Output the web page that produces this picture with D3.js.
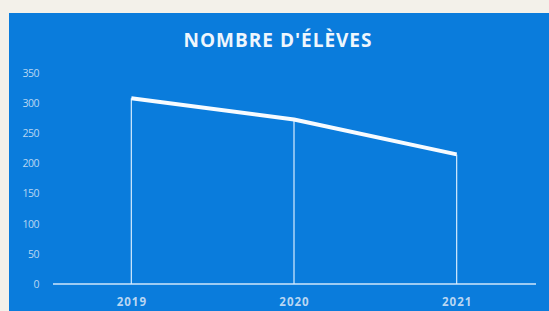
<!DOCTYPE html>
<html>
<head>
<meta charset="utf-8">
<script src="https://cdn.jsdelivr.net/npm/d3@7"></script>
<style>
  body { margin: 0; background: #f3f1ea; }
  svg { display: block; }
</style>
</head>
<body>
<script>
const width = 549,
    height = 311;

// Data
const years = ['2019', '2020', '2021'];
const eleves = [308, 273, 215];
const yTicks = [0, 50, 100, 150, 200, 250, 300, 350];
const title = "NOMBRE D'ÉLÈVES";

const svg = d3.select("body").append("svg")
    .attr("width", width)
    .attr("height", height);

// blue slide panel
svg.append("rect")
    .attr("x", 9)
    .attr("y", 13)
    .attr("width", width - 9)
    .attr("height", height - 13)
    .attr("fill", "#0a7cdc");

const x = d3.scalePoint()
    .domain(years)
    .range([50, 538])
    .padding(0.5);

const y = d3.scaleLinear()
    .domain([0, 350])
    .range([284, 73]);

svg.append("text")
    .attr("x", 278)
    .attr("y", 47)
    .attr("text-anchor", "middle")
    .attr("fill", "#eef6fd")
    .style("font-family", "'Open Sans', sans-serif")
    .style("font-weight", "bold")
    .style("font-size", "19px")
    .style("letter-spacing", "1px")
    .text(title);

// y axis labels (no line, no ticks)
const yAxis = d3.axisLeft(y)
    .tickValues(yTicks)
    .tickSize(0)
    .tickPadding(0);

const gy = svg.append("g")
    .attr("transform", "translate(39,0)")
    .call(yAxis);
gy.select(".domain").remove();
gy.selectAll("text")
    .attr("fill", "#b9d6f2")
    .style("font-family", "'Open Sans', sans-serif")
    .style("font-size", "10.5px")
    .style("letter-spacing", "-0.5px");

// baseline
svg.append("line")
    .attr("x1", 53)
    .attr("x2", 536)
    .attr("y1", y(0))
    .attr("y2", y(0))
    .attr("stroke", "#cfe6fb")
    .attr("stroke-width", 1.6);

// x axis labels
const xAxis = d3.axisBottom(x)
    .tickSize(0)
    .tickPadding(0);

const gx = svg.append("g")
    .attr("transform", "translate(0,306)")
    .call(xAxis);
gx.select(".domain").remove();
gx.selectAll("text")
    .attr("dy", 0)
    .attr("fill", "#b9d6f2")
    .style("font-family", "'Open Sans', sans-serif")
    .style("font-weight", "bold")
    .style("font-size", "11.5px")
    .style("letter-spacing", "1px");

const data = years.map((d, i) => ({year: d, value: eleves[i]}));

// drop lines
svg.append("g")
    .selectAll("line")
    .data(data)
    .enter().append("line")
    .attr("x1", d => x(d.year))
    .attr("x2", d => x(d.year))
    .attr("y1", d => y(d.value))
    .attr("y2", y(0))
    .attr("stroke", "#d6ebfd")
    .attr("stroke-width", 1.2);

const line = d3.line()
    .x(d => x(d.year))
    .y(d => y(d.value));

svg.append("path")
    .datum(data)
    .attr("d", line)
    .attr("fill", "none")
    .attr("stroke", "#f7fbff")
    .attr("stroke-width", 4)
    .attr("stroke-linejoin", "round");
</script>
</body>
</html>
